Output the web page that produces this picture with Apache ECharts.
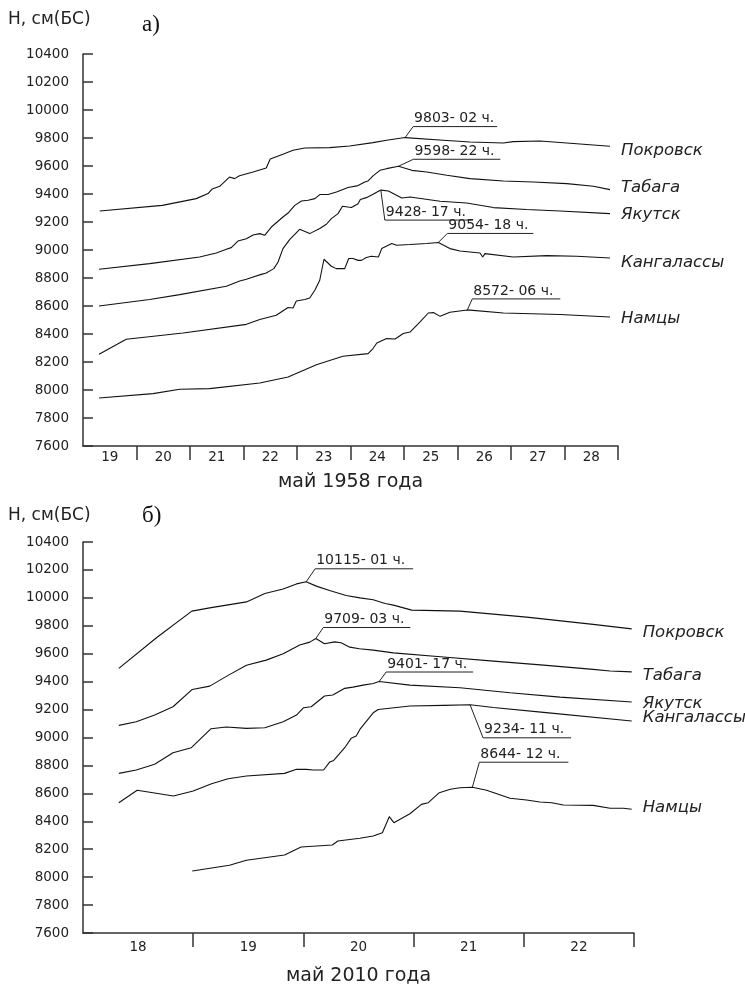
<!DOCTYPE html>
<html>
<head>
<meta charset="utf-8">
<script src="https://cdn.jsdelivr.net/npm/echarts@6.0.0/dist/echarts.min.js"></script>
<style>
  html, body { margin: 0; padding: 0; background: #fff; }
  #chart { width: 745px; height: 984px; }
</style>
</head>
<body>
<div id="chart"></div>
<script>
// x values are hours counted from 00 h of the first day on the axis
const days1958 = ['19', '20', '21', '22', '23', '24', '25', '26', '27', '28']
const days2010 = ['18', '19', '20', '21', '22']
const stations = ['Покровск', 'Табага', 'Якутск', 'Кангалассы', 'Намцы']

// май 1958
const pokrovsk1958 = [[7.5, 9279], [35.6, 9319], [50.8, 9367], [56.1, 9403], [58.0, 9436], [61.3, 9455], [65.7, 9521], [68.0, 9510], [70.2, 9531], [76.3, 9557], [82.2, 9586], [84.0, 9650], [89.7, 9684], [94.2, 9712], [99.5, 9729], [110.7, 9731], [119.6, 9743], [130.1, 9767], [136.2, 9784], [144.5, 9803], [161.6, 9784], [173.6, 9771], [188.6, 9764], [193.0, 9774], [205.0, 9779], [217.0, 9764], [236.4, 9741]]
const tabaga1958 = [[7.2, 8862], [29.9, 8903], [52.3, 8950], [59.8, 8979], [64.3, 9005], [66.5, 9017], [69.5, 9064], [73.3, 9081], [76.3, 9107], [79.3, 9117], [81.5, 9105], [84.5, 9164], [89.7, 9236], [92.0, 9264], [95.0, 9319], [98.0, 9350], [101.0, 9355], [104.0, 9367], [106.2, 9396], [110.0, 9396], [113.7, 9414], [118.9, 9446], [123.4, 9460], [126.4, 9486], [127.9, 9493], [130.1, 9529], [133.2, 9569], [136.2, 9581], [141.5, 9598], [147.5, 9569], [154.2, 9557], [163.2, 9534], [173.6, 9510], [188.6, 9493], [202.0, 9486], [217.0, 9474], [229.0, 9455], [236.4, 9431]]
const yakutsk1958 = [[7.2, 8600], [29.9, 8646], [43.4, 8681], [64.3, 8741], [70.3, 8779], [73.3, 8791], [76.3, 8807], [80.0, 8826], [82.2, 8836], [85.6, 8867], [87.5, 8914], [89.7, 9010], [92.7, 9074], [97.2, 9148], [101.7, 9117], [106.2, 9153], [109.2, 9184], [111.4, 9224], [114.4, 9260], [116.4, 9312], [120.4, 9303], [123.4, 9331], [124.4, 9360], [127.1, 9374], [130.1, 9398], [133.6, 9428], [137.0, 9421], [143.0, 9371], [146.7, 9379], [160.2, 9348], [172.1, 9336], [184.1, 9303], [199.0, 9289], [214.0, 9279], [236.4, 9260]]
const kangalassy1958 = [[7.2, 8255], [19.4, 8362], [44.9, 8407], [73.3, 8469], [79.3, 8503], [86.7, 8534], [92.0, 8589], [94.2, 8586], [95.7, 8636], [99.5, 8646], [101.7, 8657], [104.0, 8712], [106.2, 8784], [108.1, 8934], [111.4, 8884], [113.6, 8867], [117.4, 8867], [118.1, 8860], [119.2, 8939], [121.1, 8939], [123.4, 8926], [124.9, 8926], [127.1, 8946], [129.4, 8955], [132.5, 8950], [134.0, 9010], [138.5, 9046], [140.7, 9034], [146.7, 9039], [154.2, 9046], [159.4, 9054], [164.6, 9010], [169.1, 8993], [178.1, 8979], [179.3, 8950], [180.3, 8974], [193.0, 8950], [208.0, 8960], [221.5, 8955], [236.4, 8943]]
const namtsy1958 = [[7.2, 7943], [31.4, 7974], [43.4, 8005], [56.8, 8010], [79.3, 8050], [92.0, 8093], [104.7, 8181], [116.6, 8241], [127.9, 8260], [130.1, 8296], [131.8, 8336], [136.2, 8367], [140.0, 8364], [143.7, 8403], [146.7, 8414], [151.2, 8486], [154.9, 8550], [157.2, 8553], [160.2, 8526], [164.6, 8555], [172.4, 8572], [188.6, 8550], [214.0, 8539], [236.4, 8521]]
const peaks1958 = ['9803- 02 ч.', '9598- 22 ч.', '9428- 17 ч.', '9054- 18 ч.', '8572- 06 ч.']

// май 2010
const pokrovsk2010 = [[7.8, 9495], [16.0, 9714], [23.7, 9905], [27.6, 9928], [35.6, 9971], [39.6, 10031], [43.6, 10064], [46.5, 10100], [48.6, 10115], [50.8, 10084], [53.7, 10053], [57.3, 10017], [60.3, 10000], [63.2, 9986], [65.8, 9960], [67.6, 9948], [71.6, 9912], [82.1, 9905], [96.6, 9862], [111.1, 9810], [119.5, 9778]]
const tabaga2010 = [[7.8, 9087], [11.6, 9113], [15.6, 9161], [19.6, 9220], [23.8, 9344], [27.6, 9368], [31.6, 9445], [35.6, 9518], [39.9, 9554], [43.6, 9599], [47.2, 9662], [49.4, 9683], [50.7, 9709], [52.6, 9671], [54.8, 9685], [56.2, 9678], [58.1, 9647], [60.2, 9635], [63.2, 9626], [67.6, 9606], [78.5, 9576], [89.4, 9547], [100.3, 9518], [111.1, 9488], [114.8, 9476], [119.5, 9470]]
const yakutsk2010 = [[7.8, 8743], [11.6, 8767], [15.6, 8808], [19.6, 8891], [23.6, 8927], [27.9, 9063], [31.2, 9075], [35.6, 9065], [39.6, 9070], [43.6, 9113], [46.5, 9161], [48.0, 9213], [49.7, 9220], [52.6, 9297], [54.4, 9304], [57.0, 9352], [58.8, 9361], [61.0, 9375], [63.2, 9387], [64.5, 9401], [71.2, 9375], [82.1, 9356], [93.0, 9320], [103.9, 9289], [119.5, 9254]]
const kangalassy2010 = [[7.8, 8533], [11.8, 8622], [19.7, 8581], [24.0, 8617], [28.0, 8669], [31.6, 8705], [35.6, 8724], [43.9, 8743], [46.5, 8772], [48.6, 8772], [50.1, 8767], [52.4, 8767], [53.7, 8824], [54.6, 8836], [57.0, 8927], [58.4, 8994], [59.5, 9010], [60.3, 9058], [63.2, 9177], [64.3, 9201], [71.2, 9226], [78.5, 9230], [84.3, 9234], [89.4, 9215], [100.3, 9180], [119.5, 9118]]
const namtsy2010 = [[23.8, 8044], [31.9, 8085], [35.6, 8121], [43.9, 8159], [47.5, 8216], [54.3, 8230], [55.5, 8259], [60.3, 8278], [63.2, 8295], [65.2, 8318], [66.7, 8433], [67.7, 8390], [71.2, 8454], [73.7, 8521], [75.2, 8533], [77.6, 8605], [80.0, 8629], [82.1, 8640], [84.8, 8644], [87.9, 8622], [93.0, 8565], [96.6, 8552], [99.5, 8538], [102.1, 8533], [104.6, 8517], [111.1, 8514], [114.8, 8493], [117.7, 8493], [119.5, 8486]]
const peaks2010 = ['10115- 01 ч.', '9709- 03 ч.', '9401- 17 ч.', '9234- 11 ч.', '8644- 12 ч.']

// leader line offsets from the peak [dx, dy, underline length] and end-label shifts
const leaders1958 = [[8, -11, 84], [15, -7, 87], [4, 30, 88], [9, -9, 86], [5, -11, 88]]
const leaders2010 = [[9, -13, 98], [7.5, -11, 87], [7, -9.5, 87], [13, 33, 88], [7, -25, 89]]
const nameShift1958 = [4, -2, 1, 5, 2]
const nameShift2010 = [4, 4, 2, -3, -2]

const FONT = 'DejaVu Sans'
const INK = '#222'

const chart = echarts.init(document.getElementById('chart'))

const makeX = (g, days, title, labelMargin, nameGap) => ({
  gridIndex: g,
  type: 'value',
  min: 0,
  max: days.length * 24,
  splitLine: { show: false },
  axisLine: { lineStyle: { color: '#333', width: 1.5 } },
  axisTick: {
    length: 14,
    customValues: days.map((d, i) => (i + 1) * 24),
    lineStyle: { color: '#333', width: 1.5 }
  },
  axisLabel: {
    customValues: days.map((d, i) => i * 24 + 12),
    formatter: (v) => days[Math.round((v - 12) / 24)],
    margin: labelMargin,
    fontSize: 13.5,
    fontFamily: FONT,
    color: INK
  },
  name: title,
  nameLocation: 'middle',
  nameGap: nameGap,
  nameTextStyle: { fontSize: 19, fontFamily: FONT, color: INK }
})

const makeY = (g) => ({
  gridIndex: g,
  type: 'value',
  min: 7600,
  max: 10400,
  interval: 200,
  splitLine: { show: false },
  axisLine: { show: true, lineStyle: { color: '#333', width: 1.5 } },
  axisTick: { show: true, inside: true, length: 10, lineStyle: { color: '#333', width: 1.5 } },
  axisLabel: { margin: 14, fontSize: 13.5, fontFamily: FONT, color: INK, formatter: (v) => String(v) }
})

const lineSeries = (g, name, data, shift) => ({
  type: 'line',
  name: name,
  xAxisIndex: g,
  yAxisIndex: g,
  data: data,
  showSymbol: false,
  symbol: 'none',
  animation: false,
  silent: true,
  lineStyle: { color: '#111', width: 1.1 },
  endLabel: {
    show: true,
    formatter: name,
    distance: 11,
    offset: [0, shift],
    fontStyle: 'italic',
    fontSize: 16.5,
    fontFamily: FONT,
    color: INK
  }
})

// peak annotations: anchored at each series maximum
const peakSeries = (g, allData, texts, offs) => ({
  type: 'custom',
  xAxisIndex: g,
  yAxisIndex: g,
  clip: false,
  silent: true,
  animation: false,
  z: 5,
  data: allData.map((s) => s.reduce((a, b) => (b[1] > a[1] ? b : a))),
  renderItem: (params, api) => {
    const i = params.dataIndex
    const p = api.coord([api.value(0), api.value(1)])
    const [dx, dy, len] = offs[i]
    const x1 = p[0] + dx
    const y1 = p[1] + dy
    return {
      type: 'group',
      children: [
        {
          type: 'polyline',
          shape: { points: [p, [x1, y1], [x1 + len, y1]] },
          style: { stroke: '#222', lineWidth: 1, fill: null }
        },
        {
          type: 'text',
          style: {
            text: texts[i],
            x: x1 + 1,
            y: y1 - 1,
            align: 'left',
            verticalAlign: 'bottom',
            fontSize: 14,
            fontFamily: FONT,
            fill: INK
          }
        }
      ]
    }
  }
})

const set1958 = [pokrovsk1958, tabaga1958, yakutsk1958, kangalassy1958, namtsy1958]
const set2010 = [pokrovsk2010, tabaga2010, yakutsk2010, kangalassy2010, namtsy2010]

chart.setOption({
  animation: false,
  grid: [
    { left: 83, top: 54, width: 535, height: 392, outerBoundsMode: 'none' },
    { left: 83, top: 542, width: 551, height: 391, outerBoundsMode: 'none' }
  ],
  xAxis: [
    makeX(0, days1958, 'май 1958 года', 4, 27),
    makeX(1, days2010, 'май 2010 года', 7, 34)
  ],
  yAxis: [makeY(0), makeY(1)],
  graphic: [
    { type: 'text', left: 8, top: 11, style: { text: 'Н, см(БС)', fontSize: 17, fontFamily: FONT, fill: INK } },
    { type: 'text', left: 142, top: 13, style: { text: 'а)', fontSize: 23, fontFamily: 'Liberation Serif', fill: '#111' } },
    { type: 'text', left: 8, top: 507, style: { text: 'Н, см(БС)', fontSize: 17, fontFamily: FONT, fill: INK } },
    { type: 'text', left: 142, top: 504, style: { text: 'б)', fontSize: 23, fontFamily: 'Liberation Serif', fill: '#111' } }
  ],
  series: [
    ...set1958.map((d, i) => lineSeries(0, stations[i], d, nameShift1958[i])),
    ...set2010.map((d, i) => lineSeries(1, stations[i], d, nameShift2010[i])),
    peakSeries(0, set1958, peaks1958, leaders1958),
    peakSeries(1, set2010, peaks2010, leaders2010)
  ]
})
</script>
</body>
</html>
